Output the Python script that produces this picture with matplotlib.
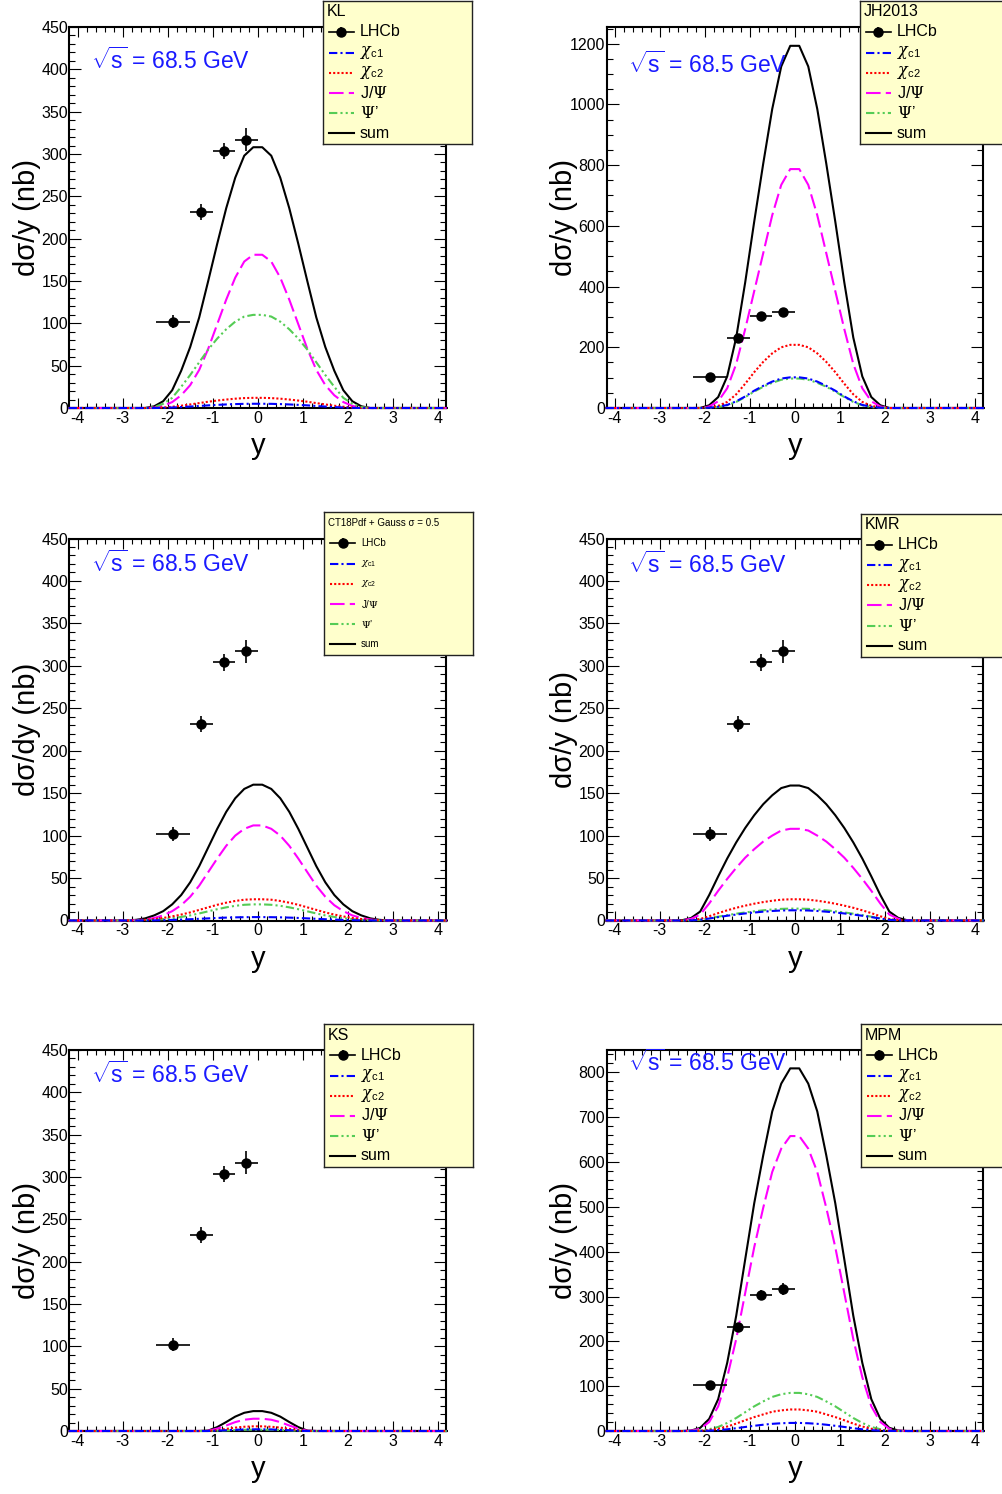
import numpy as np
import matplotlib
matplotlib.use("Agg")
from matplotlib import pyplot as plt
from matplotlib.ticker import MultipleLocator

plt.rcParams['font.family'] = ['Liberation Sans', 'DejaVu Sans']
plt.rcParams['mathtext.fontset'] = 'custom'
plt.rcParams['mathtext.rm'] = 'Liberation Sans'
# greek letters in the legend look like the ROOT symbol font
plt.rcParams['mathtext.it'] = 'DejaVu Serif:italic'
plt.rcParams['mathtext.bf'] = 'DejaVu Serif'
plt.rcParams['axes.unicode_minus'] = False

# rapidity nodes (positive half, curves are symmetric in y)
half_nodes = [0.1, 0.3, 0.5, 0.7, 0.9, 1.1, 1.3, 1.5, 1.7, 1.9, 2.1, 2.3, 2.5, 2.7, 2.9]

# LHCb points
lhcb_y = [-1.875, -1.25, -0.75, -0.25]
lhcb_yerr = [0.375, 0.25, 0.25, 0.25]
lhcb_val = [102, 231, 304, 317]
lhcb_err = [8, 9.5, 9.5, 14]

# model curves, values at half_nodes
kl_sum = [308, 298, 272, 236, 194, 150, 107, 72, 44, 21, 8, 2, 0, 0, 0]
kl_jpsi = [181, 173, 154, 128, 99, 70, 45, 27, 15, 7, 2.5, 0.5, 0, 0, 0]
kl_psip = [110, 108, 102, 93, 82, 69, 54, 39, 25, 12, 5, 1, 0, 0, 0]
kl_chic2 = [12, 11.7, 11, 10, 8.8, 7.4, 5.8, 4.2, 2.7, 1.5, 0.6, 0.1, 0, 0, 0]
kl_chic1 = [5, 4.9, 4.6, 4.2, 3.7, 3.1, 2.4, 1.7, 1.1, 0.6, 0.2, 0, 0, 0, 0]

jh_sum = [1193, 1125, 985, 805, 614, 414, 232, 104, 36, 9, 0, 0, 0, 0, 0]
jh_jpsi = [787, 735, 635, 510, 385, 260, 145, 65, 22, 5, 0, 0, 0, 0, 0]
jh_psip = [97, 93, 83, 70, 54, 36, 20, 9, 3, 1, 0, 0, 0, 0, 0]
jh_chic2 = [208, 200, 180, 152, 118, 80, 45, 20, 7, 2, 0, 0, 0, 0, 0]
jh_chic1 = [101, 97, 87, 73, 57, 38, 22, 10, 4, 1, 0, 0, 0, 0, 0]

ct_sum = [160, 155, 144, 128, 108, 86, 64, 45, 30, 19, 11, 6, 2.5, 0.8, 0]
ct_jpsi = [112, 108, 100, 88, 73, 57, 41, 28, 18, 11, 6, 3, 1.2, 0.4, 0]
ct_psip = [19, 18.5, 17.3, 15.5, 13.3, 10.8, 8.3, 6, 4.2, 2.7, 1.6, 0.9, 0.4, 0.1, 0]
ct_chic2 = [25, 24.5, 23, 21, 18.5, 15.5, 12.5, 9.5, 7, 4.8, 3, 1.7, 0.8, 0.3, 0]
ct_chic1 = [4, 3.9, 3.7, 3.4, 3, 2.5, 2, 1.5, 1.1, 0.7, 0.4, 0.2, 0.1, 0, 0]

kmr_sum = [159, 156, 147.5, 137, 124, 109, 92, 73, 52, 30, 10.5, 3, 0.3, 0, 0]
kmr_jpsi = [108, 106, 100, 93, 84, 74, 62, 49, 35, 20, 7, 2, 0.3, 0, 0]
kmr_psip = [14, 13.7, 13, 12, 10.8, 9.5, 8, 6.3, 4.5, 2.6, 0.9, 0.3, 0, 0, 0]
kmr_chic2 = [25, 24.5, 23.3, 21.7, 19.8, 17.5, 15, 12, 8.7, 5, 1.8, 0.5, 0, 0, 0]
kmr_chic1 = [12, 11.8, 11.2, 10.4, 9.4, 8.3, 7, 5.6, 4, 2.3, 0.8, 0.2, 0, 0, 0]

ks_sum = [23.5, 21.5, 17, 10.6, 4.6, 0.5, 0, 0, 0, 0, 0, 0, 0, 0, 0]
ks_jpsi = [14.5, 13.3, 10.5, 6.5, 2.8, 0.3, 0, 0, 0, 0, 0, 0, 0, 0, 0]
ks_psip = [1.5, 1.4, 1.1, 0.7, 0.3, 0, 0, 0, 0, 0, 0, 0, 0, 0, 0]
ks_chic2 = [5.5, 5, 4, 2.5, 1.1, 0.1, 0, 0, 0, 0, 0, 0, 0, 0, 0]
ks_chic1 = [2, 1.8, 1.4, 0.9, 0.4, 0, 0, 0, 0, 0, 0, 0, 0, 0, 0]

mpm_sum = [809, 775, 713, 615, 508, 383, 257, 152, 71, 27, 7, 1, 0, 0, 0]
mpm_jpsi = [658, 630, 578, 498, 410, 308, 205, 120, 55, 20, 5, 0.7, 0, 0, 0]
mpm_psip = [85, 82, 76, 66, 55, 42, 29, 18, 9, 4, 1, 0.2, 0, 0, 0]
mpm_chic2 = [48, 46, 43, 37, 31, 24, 16.5, 10, 5, 2, 0.6, 0.1, 0, 0, 0]
mpm_chic1 = [18, 17.3, 16, 14, 11.6, 9, 6.2, 3.8, 1.9, 0.8, 0.2, 0, 0, 0, 0]

panel_names = ['KL', 'JH2013', 'CT18Pdf + Gauss σ = 0.5', 'KMR', 'KS', 'MPM']
panel_ylabels = ['dσ/y (nb)', 'dσ/y (nb)', 'dσ/dy (nb)', 'dσ/y (nb)', 'dσ/y (nb)', 'dσ/y (nb)']
panel_ymax = [450, 1255, 450, 450, 450, 850]
panel_ymajor = [50, 200, 50, 50, 50, 100]
panel_yminor = [10, 50, 10, 10, 10, 20]
panel_text_y = [0.911, 0.90, 0.934, 0.932, 0.934, 0.966]

W, H = 1003, 1494
# (left, top, right, bottom) in pixels
frames = [(69.5, 27, 446, 408), (606.5, 27, 983, 408),
          (69.5, 538.5, 446, 920.5), (606.5, 538.5, 983, 920.5),
          (69.5, 1050, 446, 1431), (606.5, 1050, 983, 1431)]
legend_corners = [(323, 1), (860, 1), (324, 512), (861, 514), (324, 1024), (861, 1024)]

# style per component: label, colour, dashes
styles = {
    'chic1': (r'$\chi_{\mathrm{c1}}$', '#0000ff', (0, (4, 1.5, 1, 1.5))),
    'chic2': (r'$\chi_{\mathrm{c2}}$', '#ff0000', (0, (1, 1))),
    'jpsi': (r'J/$\mathbf{\Psi}$', '#ff00ff', (0, (7, 2.5))),
    'psip': (r'$\mathbf{\Psi}$’', '#55cc55', (0, (4, 1.5, 1, 1.5, 1, 1.5))),
    'sum': ('sum', 'black', '-'),
}


def full_curve(half: list) -> tuple:
    nodes = np.array(half_nodes)
    vals = np.array(half, dtype=float)
    x = np.concatenate([[-4.2], -nodes[::-1], nodes, [4.2]])
    y = np.concatenate([[0.0], vals[::-1], vals, [0.0]])
    return x, y


def draw_panel(ax, curves: dict, ymax: float, ymajor: float, yminor: float,
               ylabel: str, text_y: float) -> None:
    for key in ['sum', 'jpsi', 'psip', 'chic2', 'chic1']:
        x, y = full_curve(curves[key])
        _, color, ls = styles[key]
        ax.plot(x, y, color=color, linestyle=ls, lw=1.5, zorder=3, clip_on=False)

    ax.errorbar(lhcb_y, lhcb_val, xerr=lhcb_yerr, yerr=lhcb_err, fmt='o',
                color='black', ms=6.5, elinewidth=1.2, capsize=0, zorder=4)

    ax.set_xlim(-4.18, 4.18)
    ax.set_ylim(0, ymax)
    ax.xaxis.set_major_locator(MultipleLocator(1))
    ax.xaxis.set_minor_locator(MultipleLocator(0.2))
    ax.yaxis.set_major_locator(MultipleLocator(ymajor))
    ax.yaxis.set_minor_locator(MultipleLocator(yminor))
    ax.tick_params(which='both', direction='in', top=True, right=True,
                   labelsize=11.5, width=0.8)
    ax.tick_params(axis='x', which='major', length=7.5, pad=2)
    ax.tick_params(axis='x', which='minor', length=3.8)
    ax.tick_params(axis='y', which='major', length=8.5, pad=1)
    ax.tick_params(axis='y', which='minor', length=4.2)
    for sp in ax.spines.values():
        sp.set_linewidth(1.5)

    ax.set_ylabel(ylabel, fontsize=21)
    ax.yaxis.set_label_coords(-0.075, 0.5)
    ax.set_xlabel('y', fontsize=21)
    ax.xaxis.set_label_coords(0.5, -0.063)

    ax.text(0.058, text_y, r'$\sqrt{\mathrm{s}}$ = 68.5 GeV', transform=ax.transAxes,
            color='#1a1aff', fontsize=16.5, va='center', ha='left')


def draw_legend(fig, corner: tuple, header: str, small: bool) -> None:
    bw, bh = 149, 143
    left, top = corner
    lax = fig.add_axes([left / W, 1 - (top + bh) / H, bw / W, bh / H])
    lax.set_facecolor('#ffffcc')
    lax.set_xlim(0, bw)
    lax.set_ylim(bh, 0)
    lax.set_xticks([])
    lax.set_yticks([])
    for sp in lax.spines.values():
        sp.set_linewidth(1.0)
        sp.set_color('#222222')

    fs = 7 if small else 11.5
    lax.text(4, 11, header, fontsize=fs, va='center', ha='left')

    rows = [31, 51.5, 71.5, 91.5, 112, 132]
    lax.plot([6, 31], [rows[0], rows[0]], color='black', lw=1.2)
    lax.errorbar([18.5], [rows[0]], yerr=[5], fmt='o', color='black', ms=6.5,
                 elinewidth=1.2, capsize=0)
    lax.text(37, rows[0], 'LHCb', fontsize=fs, va='center', ha='left')
    for row, key in zip(rows[1:], ['chic1', 'chic2', 'jpsi', 'psip', 'sum']):
        label, color, ls = styles[key]
        lax.plot([6, 31], [row, row], color=color, linestyle=ls, lw=1.5)
        lax.text(37, row, label, fontsize=fs, va='center', ha='left')


def main() -> None:
    fig = plt.figure(figsize=(W / 100, H / 100), dpi=100)

    panels = [
        {'sum': kl_sum, 'jpsi': kl_jpsi, 'psip': kl_psip, 'chic2': kl_chic2, 'chic1': kl_chic1},
        {'sum': jh_sum, 'jpsi': jh_jpsi, 'psip': jh_psip, 'chic2': jh_chic2, 'chic1': jh_chic1},
        {'sum': ct_sum, 'jpsi': ct_jpsi, 'psip': ct_psip, 'chic2': ct_chic2, 'chic1': ct_chic1},
        {'sum': kmr_sum, 'jpsi': kmr_jpsi, 'psip': kmr_psip, 'chic2': kmr_chic2, 'chic1': kmr_chic1},
        {'sum': ks_sum, 'jpsi': ks_jpsi, 'psip': ks_psip, 'chic2': ks_chic2, 'chic1': ks_chic1},
        {'sum': mpm_sum, 'jpsi': mpm_jpsi, 'psip': mpm_psip, 'chic2': mpm_chic2, 'chic1': mpm_chic1},
    ]

    for i, curves in enumerate(panels):
        l, t, r, b = frames[i]
        ax = fig.add_axes([l / W, 1 - b / H, (r - l) / W, (b - t) / H])
        draw_panel(ax, curves, panel_ymax[i], panel_ymajor[i], panel_yminor[i],
                   panel_ylabels[i], panel_text_y[i])

    for i in range(6):
        draw_legend(fig, legend_corners[i], panel_names[i], i == 2)

    fig.savefig('out.png', dpi=100)


if __name__ == "__main__":
    main()
